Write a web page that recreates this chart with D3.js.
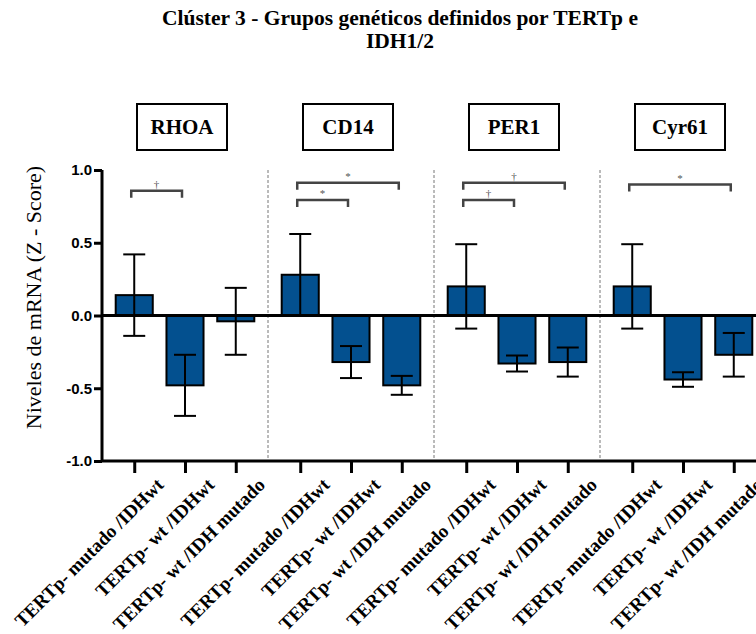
<!DOCTYPE html>
<html>
<head>
<meta charset="utf-8">
<script src="https://cdn.jsdelivr.net/npm/d3@7.9.0/dist/d3.min.js"></script>
<style>
  body { margin: 0; background: white; }
</style>
</head>
<body>
<svg id="chart"></svg>
<script>
const genes = ['RHOA', 'CD14', 'PER1', 'Cyr61'];
const groups = ['TERTp- mutado /IDHwt', 'TERTp- wt /IDHwt', 'TERTp- wt /IDH mutado'];

// mean z-score per gene (one row per gene, one value per group)
const means = [
    [0.14, -0.48, -0.04],
    [0.28, -0.32, -0.48],
    [0.20, -0.33, -0.32],
    [0.20, -0.44, -0.27]
];
// error bar half lengths
const errors = [
    [0.28, 0.21, 0.23],
    [0.28, 0.11, 0.065],
    [0.29, 0.055, 0.10],
    [0.29, 0.05, 0.15]
];

// significance brackets: gene, first group, second group, height, mark
const sigGene = ['RHOA', 'CD14', 'CD14', 'PER1', 'PER1', 'Cyr61'];
const sigFrom = [0, 0, 0, 0, 0, 0];
const sigTo = [1, 1, 2, 1, 2, 2];
const sigLevel = [0.857, 0.793, 0.912, 0.793, 0.912, 0.90];
const sigMark = ['†', '*', '*', '†', '†', '*'];

const yTicks = [-1.0, -0.5, 0.0, 0.5, 1.0];

const width = 756;
const height = 634;
const margin = { top: 170, right: 0, bottom: 173, left: 102 };

const svg = d3.select('#chart')
    .attr('width', width)
    .attr('height', height);

// scales
const yScale = d3.scaleLinear()
    .domain([-1, 1])
    .range([height - margin.bottom, margin.top]);

const panelScale = d3.scaleBand()
    .domain(genes)
    .range([margin.left, margin.left + 4 * 166]);

const groupScale = d3.scaleBand()
    .domain(d3.range(groups.length))
    .range([0, panelScale.bandwidth()])
    .paddingInner(0.27)
    .paddingOuter(0.27);

const barW = groupScale.bandwidth();
const cx = (g, i) => panelScale(g) + groupScale(i) + barW / 2;

// one ordinal scale for the 12 category ticks
const keys = [];
genes.forEach(g => groups.forEach((s, i) => keys.push(g + '|' + i)));
const xScale = d3.scaleOrdinal()
    .domain(keys)
    .range(keys.map(k => cx(k.split('|')[0], +k.split('|')[1])));

const blue = '#03508f';

// title
svg.append('text')
    .attr('x', 400)
    .attr('y', 25)
    .attr('text-anchor', 'middle')
    .style('font-family', 'Liberation Serif, serif')
    .style('font-weight', 'bold')
    .style('font-size', '21.5px')
    .selectAll('tspan')
    .data(['Clúster 3 - Grupos genéticos definidos por TERTp e', 'IDH1/2'])
    .join('tspan')
    .attr('x', 400)
    .attr('dy', (d, i) => i === 0 ? 0 : 23)
    .text(d => d);

// dashed separators between genes
svg.append('g')
    .selectAll('line')
    .data(genes.slice(1))
    .join('line')
    .attr('x1', d => panelScale(d))
    .attr('x2', d => panelScale(d))
    .attr('y1', yScale(1))
    .attr('y2', yScale(-1))
    .attr('stroke', '#777')
    .attr('stroke-width', 1)
    .attr('stroke-dasharray', '3,2');

// gene name boxes
const box = svg.append('g')
    .selectAll('g')
    .data(genes)
    .join('g')
    .attr('transform', d => `translate(${panelScale(d) + panelScale.bandwidth() / 2 - 3}, 127)`);

box.append('rect')
    .attr('x', -45)
    .attr('y', -23)
    .attr('width', 90)
    .attr('height', 46)
    .attr('fill', 'white')
    .attr('stroke', 'black')
    .attr('stroke-width', 2);

box.append('text')
    .attr('y', 7)
    .attr('text-anchor', 'middle')
    .style('font-family', 'Liberation Serif, serif')
    .style('font-weight', 'bold')
    .style('font-size', '21px')
    .text(d => d);

// bars
const cells = [];
genes.forEach((g, gi) => groups.forEach((s, i) => {
    cells.push({ gene: g, i: i, mean: means[gi][i], err: errors[gi][i] });
}));

svg.append('g')
    .selectAll('rect')
    .data(cells)
    .join('rect')
    .attr('x', d => cx(d.gene, d.i) - barW / 2)
    .attr('y', d => yScale(Math.max(0, d.mean)))
    .attr('width', barW)
    .attr('height', d => Math.abs(yScale(d.mean) - yScale(0)))
    .attr('fill', blue)
    .attr('stroke', 'black')
    .attr('stroke-width', 2);

// error bars
const eb = svg.append('g')
    .attr('stroke', 'black')
    .attr('stroke-width', 2)
    .selectAll('g')
    .data(cells)
    .join('g');

eb.append('line')
    .attr('x1', d => cx(d.gene, d.i))
    .attr('x2', d => cx(d.gene, d.i))
    .attr('y1', d => yScale(d.mean + d.err))
    .attr('y2', d => yScale(d.mean - d.err));

eb.selectAll('.cap')
    .data(d => [d.mean + d.err, d.mean - d.err].map(v => ({ x: cx(d.gene, d.i), v: v })))
    .join('line')
    .attr('class', 'cap')
    .attr('x1', d => d.x - 11)
    .attr('x2', d => d.x + 11)
    .attr('y1', d => yScale(d.v))
    .attr('y2', d => yScale(d.v));

// zero line
svg.append('line')
    .attr('x1', margin.left)
    .attr('x2', width)
    .attr('y1', yScale(0))
    .attr('y2', yScale(0))
    .attr('stroke', 'black')
    .attr('stroke-width', 3);

// significance brackets
const br = svg.append('g')
    .selectAll('g')
    .data(sigGene.map((g, k) => ({ gene: g, a: sigFrom[k], b: sigTo[k], v: sigLevel[k], m: sigMark[k] })))
    .join('g');

br.append('path')
    .attr('d', d => {
        const x1 = cx(d.gene, d.a) - 3, x2 = cx(d.gene, d.b) - 3, y = yScale(d.v);
        return `M${x1},${y + 7}V${y}H${x2}V${y + 7}`;
    })
    .attr('fill', 'none')
    .attr('stroke', '#444')
    .attr('stroke-width', 2.5);

br.append('text')
    .attr('x', d => (cx(d.gene, d.a) + cx(d.gene, d.b)) / 2 - 3)
    .attr('y', d => yScale(d.v) - 3)
    .attr('text-anchor', 'middle')
    .attr('fill', '#555')
    .style('font-family', 'Liberation Serif, serif')
    .style('font-size', '11px')
    .text(d => d.m);

// y axis
const yAxis = svg.append('g')
    .attr('transform', `translate(${margin.left}, 0)`)
    .call(d3.axisLeft(yScale).tickValues(yTicks).tickFormat(d => d.toFixed(1)).tickSize(8));

yAxis.selectAll('path, line').attr('stroke', 'black').attr('stroke-width', 3);
yAxis.select('.domain').attr('d', `M0,${yScale(1)}V${yScale(-1)}`);
yAxis.selectAll('text')
    .attr('x', -10)
    .style('font-family', 'Liberation Sans, Arial, sans-serif')
    .style('font-weight', 'bold')
    .style('font-size', '15px')
    .attr('fill', 'black');

svg.append('text')
    .attr('transform', `translate(41, ${yScale(0) - 18}) rotate(-90)`)
    .attr('text-anchor', 'middle')
    .style('font-family', 'Liberation Serif, serif')
    .style('font-size', '22px')
    .text('Niveles de mRNA (Z - Score)');

// x axis
const xAxis = svg.append('g')
    .attr('transform', `translate(0, ${yScale(-1)})`)
    .call(d3.axisBottom(xScale).tickSize(12).tickFormat(k => groups[+k.split('|')[1]]));

xAxis.select('.domain').attr('d', `M${margin.left},0H${width}`);
xAxis.selectAll('path, line').attr('stroke', 'black').attr('stroke-width', 3);
xAxis.selectAll('text')
    .attr('x', 30)
    .attr('y', 25)
    .attr('dy', 0)
    .attr('text-anchor', 'end')
    .attr('transform', 'rotate(-45, 30, 25)')
    .attr('fill', 'black')
    .style('font-family', 'Liberation Serif, serif')
    .style('font-weight', 'bold')
    .style('font-size', '19px');
</script>
</body>
</html>
